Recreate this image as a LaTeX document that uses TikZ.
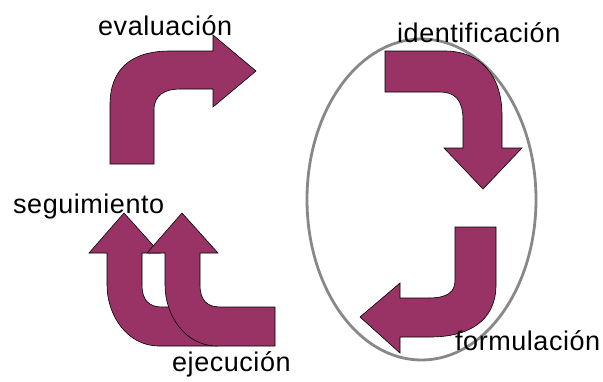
\documentclass[tikz,border=0pt]{standalone}
\usepackage{fontspec}
\setmainfont{Liberation Sans}
\definecolor{plum}{HTML}{993366}
\definecolor{ringgray}{HTML}{888888}
\tikzset{
  bentarrow/.style={fill=plum,draw=black,line width=0.6pt,line join=miter},
  stage/.style={inner sep=0pt,anchor=base west,font=\fontsize{27}{27}\selectfont\addfontfeatures{LetterSpace=2}},
  ring/.style={draw=ringgray,line width=2.8pt}
}
\begin{document}
\begin{tikzpicture}[x=1pt,y=-1pt]
\useasboundingbox (0,0) rectangle (603,381);
\draw[ring] (421.5,199.5) ellipse [x radius=114.5pt, y radius=160.5pt]; % edit here for the oval
% evaluacion
\filldraw[bentarrow] (110,164) -- (110,105) .. controls (110,70) and (130,51) .. (170,51) -- (213,51) -- (213,35) -- (256,71) -- (213,107) -- (213,89) -- (180,89) .. controls (165,89) and (154,95) .. (154,110) -- (154,164) -- cycle;
% identificacion
\filldraw[bentarrow] (385,51) -- (445,51) .. controls (480,51) and (502,75) .. (502,115) -- (502,148) -- (522,148) -- (483,189) -- (444,148) -- (463,148) -- (463,120) .. controls (463,100) and (455,92) .. (440,92) -- (385,92) -- cycle;
% formulacion
\filldraw[bentarrow] (455,227) -- (496,227) -- (496,285) .. controls (496,320) and (470,337) .. (430,337) -- (400,337) -- (400,353) -- (360,317) -- (400,283) -- (400,298) -- (428,298) .. controls (448,298) and (455,292) .. (455,280) -- cycle;
\foreach \s in {-58,0} % edit here for the twin arrows
\filldraw[bentarrow,shift={(\s,0)}] (275,307) -- (275,346) -- (217,346) .. controls (185,346) and (165,315) .. (165,285) -- (165,253) -- (147,253) -- (182,213) -- (218,253) -- (200,253) -- (200,285) .. controls (200,300) and (207,307) .. (220,307) -- cycle;
\node[stage] (eval) at (98,35) {evaluación};
\node[stage] (ident) at (397,42) {identificación};
\node[stage] (segui) at (13,213) {seguimiento};
\node[stage] (ejec) at (172,371) {ejecución};
\node[stage] (formu) at (455,350) {formulación};
\end{tikzpicture}
\end{document}
